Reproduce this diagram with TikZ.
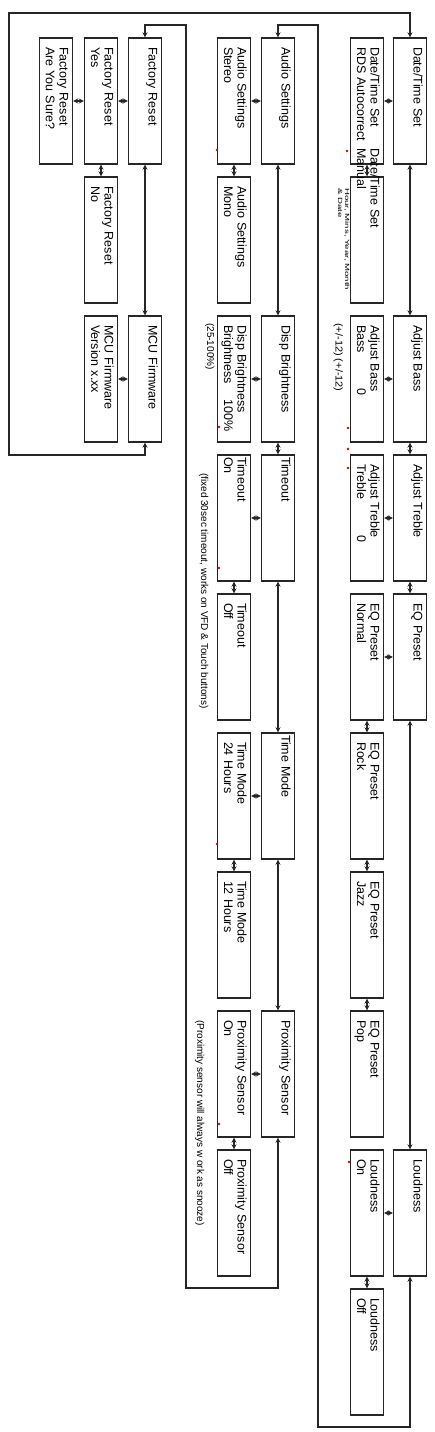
\documentclass[tikz,border=0pt]{standalone}
\usepackage{fontspec}
\setmainfont{Liberation Sans}
\usepackage{graphicx}
\usetikzlibrary{arrows.meta}

\begin{document}
\begin{tikzpicture}[x=1pt,y=-1pt,
	menubox/.style={draw=black!85,line width=1.4pt,rotate=-90,inner xsep=9pt,inner ysep=0pt,
		text width=108pt,align=left,text height=13pt,text depth=20pt,
		font=\fontsize{12.5}{13.5}\selectfont},
	tight/.style={inner xsep=2pt,text width=122pt},
	link/.style={<->,>={Stealth[length=5pt,width=5pt]},line width=1.2pt,draw=black!85},
	note/.style={rotate=-90,anchor=base west,inner sep=0pt,font=\fontsize{10}{11}\selectfont},
	speck/.style={fill=red!80!black}]
	\useasboundingbox (0,0) rectangle (434,1432);
	% right column
	\node[menubox] (dts) at (410,101) {Date/Time Set};
	\node[menubox] (bass) at (410,379) {Adjust Bass};
	\node[menubox] (treble) at (410,518) {Adjust Treble};
	\node[menubox] (eq) at (410,657) {EQ Preset};
	\node[menubox] (loud) at (410,1213) {Loudness};
	\node[menubox] (dtrds) at (367,101) {Date/Time Set\\RDS Autocorrect};
	\node[menubox] (dtman) at (367,240) {\hspace*{-38pt}Date/Time Set\\\hspace*{-38pt}Manual};
	\node[menubox] (bassval) at (367,379) {Adjust Bass\\\makebox[64pt][l]{Bass}0};
	\node[menubox] (trebval) at (367,518) {Adjust Treble\\\makebox[72pt][l]{Treble}0};
	\node[menubox] (eqnormal) at (367,657) {EQ Preset\\Normal};
	\node[menubox] (eqrock) at (367,796) {EQ Preset\\Rock};
	\node[menubox] (eqjazz) at (367,935) {EQ Preset\\Jazz};
	\node[menubox] (eqpop) at (367,1074) {EQ Preset\\Pop};
	\node[menubox] (loudon) at (367,1213) {Loudness\\On};
	\node[menubox] (loudoff) at (367,1352) {Loudness\\Off};
	% middle column
	\node[menubox] (audio) at (278,101) {Audio Settings};
	\node[menubox] (disp) at (278,379) {Disp Brightness};
	\node[menubox,tight] (tmout) at (278,518) {Timeout};
	\node[menubox,tight] (tmode) at (278,796) {Time Mode};
	\node[menubox] (prox) at (278,1074) {Proximity Sensor};
	\node[menubox] (stereo) at (234,101) {Audio Settings\\Stereo};
	\node[menubox] (mono) at (234,240) {Audio Settings\\Mono};
	\node[menubox] (dispval) at (234,379) {Disp Brightness\\\makebox[75pt][l]{Brightness}100\%};
	\node[menubox,tight] (tmon) at (234,518) {Timeout\\On};
	\node[menubox] (tmoff) at (234,657) {Timeout\\Off};
	\node[menubox] (h24) at (234,796) {Time Mode\\24 Hours};
	\node[menubox] (h12) at (234,935) {Time Mode\\12 Hours};
	\node[menubox] (proxon) at (234,1074) {Proximity Sensor\\On};
	\node[menubox] (proxoff) at (234,1213) {Proximity Sensor\\Off};
	% left column
	\node[menubox] (freset) at (145,101) {Factory Reset};
	\node[menubox] (mcu) at (145,379) {MCU Firmware};
	\node[menubox] (fryes) at (101,101) {Factory Reset\\Yes};
	\node[menubox] (frno) at (101,240) {Factory Reset\\No};
	\node[menubox] (mcuver) at (101,379) {MCU Firmware\\Version x.xx};
	\node[menubox] (frsure) at (56,101) {Factory Reset\\Are You Sure?};
	% side notes
	\node[note,font=\fontsize{6}{7}\selectfont,align=left] (dthint) at (338,188) {\scalebox{1.6}[1]{Hour, Mins, Year, Month}\\\scalebox{1.6}[1]{\& Date}};
	\node[note] (bassrange) at (335.5,323) {\scalebox{1.1}[1]{(+/-12) (+/-12)}};
	\node[note] (disprange) at (207,323) {(25-100\%)};
	\node[note] (tmoutnote) at (201,473) {(fixed 30sec timeout, works on VFD \& Touch buttons)};
	\node[note] (proxnote) at (197,1020) {(Proximity sensor will always w ork as snooze)};
	% main to sub
	\draw[link] (dts.south) -- (dtrds.north);
	\draw[link] (bass.south) -- (bassval.north);
	\draw[link] (treble.south) -- (trebval.north);
	\draw[link] (eq.south) -- (eqnormal.north);
	\draw[link] (loud.south) -- (loudon.north);
	\draw[link] (audio.south) -- (stereo.north);
	\draw[link] (disp.south) -- (dispval.north);
	\draw[link] (tmout.south) -- (tmon.north);
	\draw[link] (tmode.south) -- (h24.north);
	\draw[link] (prox.south) -- (proxon.north);
	\draw[link] (freset.south) -- (fryes.north);
	\draw[link] (mcu.south) -- (mcuver.north);
	\draw[link] (fryes.south) -- (frsure.north);
	% sub to sub
	\draw[link] (dtrds.east) -- (dtman.west);
	\draw[link] (eqnormal.east) -- (eqrock.west);
	\draw[link] (eqrock.east) -- (eqjazz.west);
	\draw[link] (eqjazz.east) -- (eqpop.west);
	\draw[link] (loudon.east) -- (loudoff.west);
	\draw[link] (stereo.east) -- (mono.west);
	\draw[link] (tmon.east) -- (tmoff.west);
	\draw[link] (h24.east) -- (h12.west);
	\draw[link] (proxon.east) -- (proxoff.west);
	\draw[link] (fryes.east) -- (frno.west);
	% main to main
	\draw[link] (dts.east) -- (bass.west);
	\draw[link] (bass.east) -- (treble.west);
	\draw[link] (treble.east) -- (eq.west);
	\draw[link] (eq.east) -- (loud.west);
	\draw[link] (audio.east) -- (disp.west);
	\draw[link] (disp.east) -- (tmout.west);
	\draw[link] (tmout.east) -- (tmode.west);
	\draw[link] (tmode.east) -- (prox.west);
	\draw[link] (freset.east) -- (mcu.west);
	% wrap-around
	\draw[link] (loud.east) |- (318,1427) -- (318,25) -| (audio.west);
	\draw[link] (prox.east) |- (186,1288) -- (186,25) -| (freset.west);
	\draw[link] (mcu.east) |- (9,455) -- (9,13) -| (dts.west);
	% red specks
	\fill[speck] (217,150) circle (1.3pt);
	\fill[speck] (347,151) circle (1.3pt);
	\fill[speck] (219,427) circle (1.3pt);
	\fill[speck] (348,428) circle (1.3pt);
	\fill[speck] (348,449) circle (1.3pt);
	\fill[speck] (348,468) circle (1.3pt);
	\fill[speck] (219,568) circle (1.3pt);
	\fill[speck] (217,844) circle (1.3pt);
	\fill[speck] (219,1124) circle (1.3pt);
	\fill[speck] (349,1162) circle (1.3pt);
\end{tikzpicture}
\end{document}
